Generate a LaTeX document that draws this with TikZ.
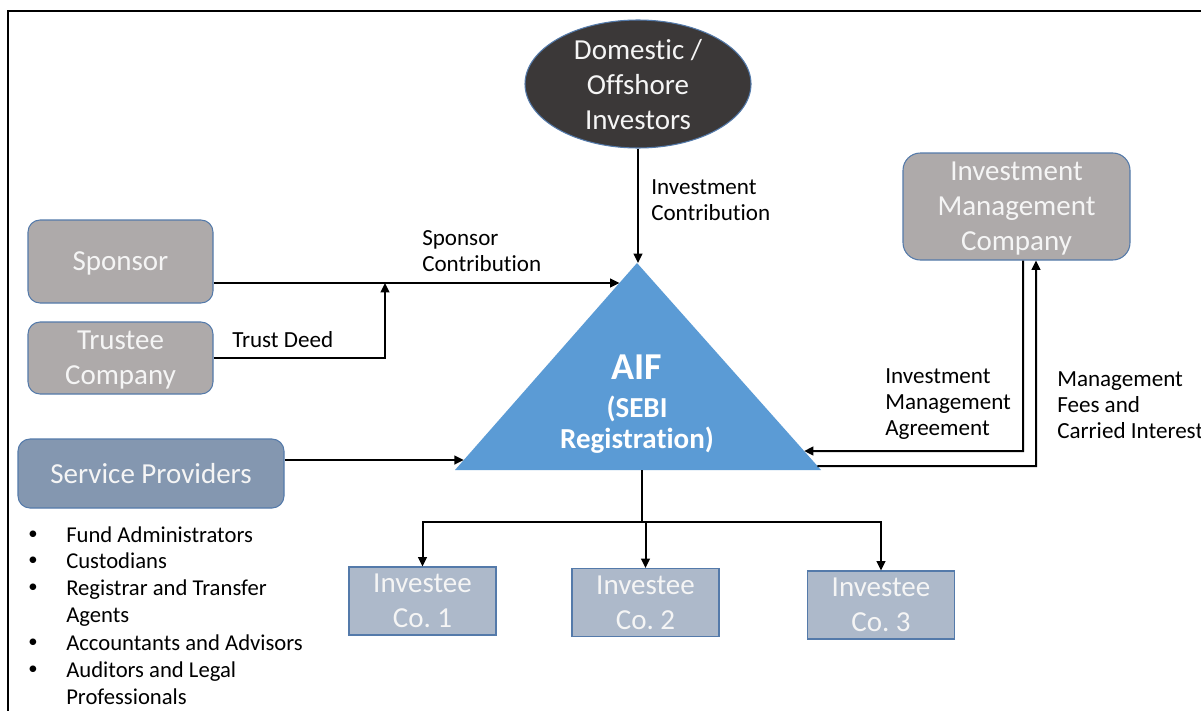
\documentclass[tikz,border=0pt]{standalone}
\usepackage{fontspec}
\setmainfont{Carlito}[Ligatures={NoCommon,NoDiscretionary,NoRare,NoContextual}]
\usetikzlibrary{arrows.meta,calc,shapes.geometric}
\definecolor{boxgray}{RGB}{174,170,170}
\definecolor{bordercol}{RGB}{84,122,170}
\definecolor{spblue}{RGB}{132,151,176}
\definecolor{invgray}{RGB}{173,185,202}
\definecolor{aifblue}{RGB}{91,155,213}
\definecolor{darkell}{RGB}{59,56,56}
\definecolor{wtxt}{RGB}{245,245,245}
\frenchspacing
\begin{document}
\begin{tikzpicture}[x=0.75pt,y=-0.75pt,
  conn/.style={line width=1.5pt,black},
  arr/.style={conn,-{Triangle[length=7pt,width=6.5pt]}},
  wtext/.style={text=wtxt,font=\fontsize{21.75}{26.25}\selectfont,align=center,text depth=0pt},
  graybox/.style={draw=bordercol,line width=0.8pt,fill=boxgray,rounded corners=9pt,inner sep=0pt,wtext},
  invbox/.style={draw=bordercol,line width=0.8pt,fill=invgray,inner sep=0pt,wtext,minimum width=110.25pt,minimum height=51pt},
  lbl/.style={anchor=north west,inner sep=0pt,align=left,font=\fontsize{17.3}{19.5}\selectfont},
  blt/.style={anchor=north west,inner sep=0pt,align=left,font=\fontsize{17}{20.25}\selectfont},
  dot/.style={anchor=center,inner sep=0pt,font=\fontsize{14}{14}\selectfont}]
\useasboundingbox (0,0) rectangle (1201,710);
\clip (0,0) rectangle (1201,710);
\fill[white] (0,0) rectangle (1201,710);
% frame
\draw[line width=1.5pt,black] (8,730) -- (8,11) -- (1230,11);

% investors
\node[ellipse,draw=bordercol,line width=0.8pt,fill=darkell,minimum width=169.5pt,minimum height=96pt,inner sep=0pt,wtext] (inv) at (638,84) {Domestic /\\Offshore\\Investors};

% boxes
\node[graybox,minimum width=138.75pt,minimum height=62.25pt] (sponsor) at (120.5,261.5) {Sponsor};
\node[graybox,minimum width=138.75pt,minimum height=54pt] (trustee) at (120.5,358) {Trustee\\Company};
\node[graybox,fill=spblue,minimum width=199.5pt,minimum height=51.75pt] (service) at (151,473.5) {Service Providers};
\node[graybox,rounded corners=13pt,minimum width=170.25pt,minimum height=80.25pt] (imc) at (1016.5,206.5) {Investment\\Management\\Company};

% AIF triangle
\coordinate (apex) at (637,263);
\coordinate (bl) at (455,470);
\coordinate (br) at (821,470);
\fill[aifblue] (apex) -- (bl) -- (br) -- cycle;
\node[text=white,inner sep=0pt,font=\fontsize{28.5}{30}\selectfont\bfseries] (aif) at (637,367) {AIF};
\node[text=white,inner sep=0pt,align=center,font=\fontsize{21.75}{23.25}\selectfont\bfseries] (sebi) at (637,425) {(SEBI\\Registration)};

\coordinate (tS) at ($(apex)!0.0966!(bl)$);
\coordinate (tSP) at ($(apex)!0.9517!(bl)$);
\coordinate (tIMA) at ($(apex)!0.9082!(br)$);
\coordinate (tMF) at ($(apex)!0.9807!(br)$);
\coordinate (tB) at (642,470);

% investees
\node[invbox] (co1) at (422.5,601) {Investee\\Co. 1};
\node[invbox] (co2) at (645.5,602.5) {Investee\\Co. 2};
\node[invbox] (co3) at (881,605) {Investee\\Co. 3};

% connectors
\draw[arr] (inv.south) -- (inv.south |- apex);
\draw[arr] (sponsor.east |- tS) -- (tS);
\coordinate (j1) at (385,283);
\draw[arr] (trustee.east) -| (j1);
\draw[arr] (service.east |- tSP) -- (tSP);
\coordinate (m1) at (1023,451);
\draw[arr] (imc.south -| m1) -- (m1) -- (tIMA);
\coordinate (m2) at (1036,466);
\draw[arr] (tMF) -- (m2) -- (imc.south -| m2);
\coordinate (hub) at (642,522);
\draw[conn] (tB) -- (hub);
\draw[arr] (hub) -| (co1);
\draw[arr] (hub) -| (co3);
\draw[arr] (hub -| co2) -- (co2);

% labels
\node[lbl] (lic) at (651,179) {Investment\\Contribution};
\node[lbl] (lsc) at (422,230) {Sponsor\\Contribution};
\node[lbl] (ltd) at (232,331) {Trust Deed};
\node[lbl] (lima) at (885,368) {Investment\\Management\\Agreement};
\node[lbl] (lmf) at (1057,371) {Management\\Fees and\\Carried Interest};

% bullet list
\node[dot] (b1) at (33,535) {\textbullet};
\node[blt] (i1) at (66,526) {Fund Administrators};
\node[dot] (b2) at (33,561) {\textbullet};
\node[blt] (i2) at (66,552) {Custodians};
\node[dot] (b3) at (33,588) {\textbullet};
\node[blt] (i3) at (66,579) {Registrar and Transfer\\Agents};
\node[dot] (b4) at (33,643) {\textbullet};
\node[blt] (i4) at (66,634) {Accountants and Advisors};
\node[dot] (b5) at (33,670) {\textbullet};
\node[blt] (i5) at (66,661) {Auditors and Legal\\Professionals};
\end{tikzpicture}
\end{document}
